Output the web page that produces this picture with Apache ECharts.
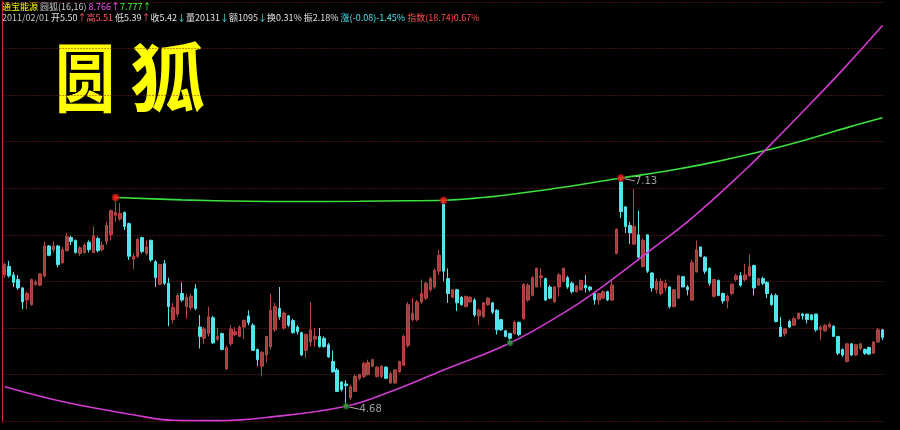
<!DOCTYPE html>
<html>
<head>
<meta charset="utf-8">
<script src="https://cdn.jsdelivr.net/npm/echarts@6/dist/echarts.min.js"></script>
<style>
  html, body { margin: 0; padding: 0; background: #000; }
  #chart { width: 900px; height: 430px; }
</style>
</head>
<body>
<div id="chart"></div>
<script>
// Daily bars, oldest first (last bar: 2011/02/01)
const open = [
  6.09, 6.18, 6.09, 6.04, 5.95, 5.82, 5.77, 5.99, 5.98, 6.08,
  6.40, 6.36, 6.40, 6.22, 6.35, 6.49, 6.46, 6.32, 6.33, 6.44,
  6.33, 6.48, 6.36, 6.45, 6.52, 6.73, 6.69, 6.76, 6.64, 6.26,
  6.29, 6.49, 6.32, 6.46, 6.23, 5.99, 6.21, 6.00, 5.61, 5.67,
  5.89, 5.75, 5.74, 5.94, 5.53, 5.41, 5.46, 5.63, 5.40, 5.46,
  5.08, 5.35, 5.45, 5.43, 5.53, 5.65, 5.55, 5.29, 5.11, 5.23,
  5.32, 5.50, 5.73, 5.52, 5.65, 5.60, 5.53, 5.47, 5.28, 5.37,
  5.40, 5.43, 5.41, 5.34, 5.16, 5.07, 4.94, 4.92, 4.77, 4.84,
  4.98, 5.00, 5.02, 5.11, 5.00, 5.00, 5.10, 4.93, 4.93, 5.05,
  5.12, 5.33, 5.61, 5.61, 5.80, 5.84, 5.93, 5.96, 6.13, 6.86,
  6.05, 5.85, 5.93, 5.85, 5.75, 5.80, 5.82, 5.65, 5.64, 5.77,
  5.79, 5.71, 5.61, 5.49, 5.46, 5.46, 5.58, 5.62, 5.82, 5.87,
  5.96, 6.06, 6.05, 5.96, 5.80, 5.96, 6.02, 6.06, 6.00, 5.91,
  5.93, 5.98, 5.96, 5.89, 5.82, 5.84, 5.91, 5.82, 6.32, 7.09,
  6.82, 6.62, 6.42, 6.52, 6.18, 6.52, 6.11, 5.93, 5.89, 5.95,
  5.96, 5.75, 5.84, 6.07, 5.96, 5.82, 6.12, 6.39, 6.28, 6.16,
  5.86, 6.03, 5.89, 5.81, 5.89, 6.04, 6.08, 6.04, 6.08, 6.19,
  5.98, 6.05, 6.01, 5.87, 5.87, 5.53, 5.46, 5.59, 5.55, 5.62,
  5.67, 5.67, 5.66, 5.67, 5.50, 5.49, 5.53, 5.54, 5.43, 5.29,
  5.16, 5.35, 5.23, 5.30, 5.29, 5.31, 5.25, 5.37, 5.50
];
const close = [
  6.20, 6.08, 6.01, 5.95, 5.80, 5.89, 6.04, 6.01, 6.10, 6.40,
  6.30, 6.40, 6.20, 6.36, 6.50, 6.45, 6.33, 6.38, 6.41, 6.36,
  6.51, 6.35, 6.41, 6.62, 6.78, 6.76, 6.75, 6.61, 6.29, 6.29,
  6.47, 6.34, 6.39, 6.25, 6.06, 6.20, 6.00, 5.75, 5.74, 5.87,
  5.82, 5.85, 5.86, 5.73, 5.43, 5.51, 5.64, 5.36, 5.43, 5.29,
  5.31, 5.51, 5.48, 5.53, 5.60, 5.58, 5.28, 5.18, 5.26, 5.43,
  5.71, 5.75, 5.64, 5.68, 5.55, 5.47, 5.48, 5.23, 5.45, 5.50,
  5.43, 5.32, 5.32, 5.21, 5.05, 4.84, 4.86, 4.90, 4.89, 5.00,
  5.02, 5.14, 5.15, 5.18, 5.10, 5.11, 4.98, 5.03, 5.07, 5.16,
  5.43, 5.77, 5.68, 5.80, 5.89, 6.00, 6.05, 6.14, 6.30, 6.13,
  5.89, 5.93, 5.79, 5.77, 5.86, 5.85, 5.66, 5.71, 5.79, 5.84,
  5.69, 5.50, 5.50, 5.43, 5.41, 5.58, 5.45, 5.99, 5.98, 6.06,
  6.16, 6.08, 5.82, 5.84, 5.96, 6.09, 6.16, 5.96, 5.91, 5.97,
  6.03, 5.95, 5.93, 5.82, 5.89, 5.91, 5.82, 5.98, 6.58, 6.77,
  6.61, 6.54, 6.61, 6.28, 6.46, 6.13, 5.95, 6.02, 6.02, 6.00,
  5.75, 5.93, 6.08, 5.96, 5.93, 6.22, 6.36, 6.29, 6.13, 6.00,
  6.04, 5.87, 5.81, 5.86, 5.99, 6.08, 5.98, 6.09, 6.18, 5.95,
  6.05, 6.00, 5.89, 5.77, 5.59, 5.43, 5.51, 5.53, 5.62, 5.68,
  5.65, 5.61, 5.61, 5.50, 5.53, 5.55, 5.56, 5.43, 5.25, 5.23,
  5.35, 5.23, 5.34, 5.35, 5.25, 5.24, 5.37, 5.50, 5.42
];
const low = [
  6.06, 6.06, 5.96, 5.93, 5.72, 5.72, 5.76, 5.97, 5.97, 6.06,
  6.29, 6.33, 6.17, 6.21, 6.34, 6.41, 6.32, 6.29, 6.32, 6.33,
  6.32, 6.33, 6.34, 6.41, 6.46, 6.66, 6.67, 6.57, 6.25, 6.15,
  6.27, 6.32, 6.30, 6.23, 5.96, 5.98, 5.98, 5.54, 5.57, 5.64,
  5.80, 5.62, 5.71, 5.71, 5.30, 5.35, 5.43, 5.35, 5.38, 5.28,
  5.07, 5.33, 5.43, 5.43, 5.40, 5.55, 5.28, 5.11, 5.00, 5.15,
  5.29, 5.48, 5.61, 5.50, 5.53, 5.46, 5.45, 5.22, 5.20, 5.32,
  5.32, 5.31, 5.31, 5.20, 5.04, 4.84, 4.84, 4.68, 4.75, 4.83,
  4.96, 4.98, 5.01, 5.10, 4.99, 4.98, 4.97, 4.92, 4.92, 5.04,
  5.11, 5.31, 5.59, 5.59, 5.78, 5.82, 5.91, 5.94, 6.09, 6.02,
  5.79, 5.84, 5.70, 5.76, 5.74, 5.79, 5.64, 5.55, 5.63, 5.76,
  5.67, 5.45, 5.49, 5.42, 5.36, 5.45, 5.43, 5.61, 5.80, 5.86,
  5.96, 5.96, 5.81, 5.83, 5.79, 5.86, 6.01, 5.94, 5.89, 5.90,
  5.92, 5.90, 5.91, 5.77, 5.77, 5.83, 5.81, 5.81, 6.31, 6.70,
  6.54, 6.42, 6.41, 6.27, 6.17, 6.11, 5.91, 5.89, 5.87, 5.91,
  5.73, 5.74, 5.83, 5.96, 5.87, 5.81, 6.12, 6.28, 6.10, 5.97,
  5.85, 5.86, 5.78, 5.73, 5.87, 6.02, 5.96, 6.02, 6.07, 5.87,
  5.97, 5.98, 5.84, 5.76, 5.58, 5.43, 5.43, 5.52, 5.54, 5.61,
  5.61, 5.57, 5.60, 5.48, 5.39, 5.48, 5.52, 5.43, 5.23, 5.21,
  5.15, 5.22, 5.22, 5.28, 5.23, 5.23, 5.24, 5.36, 5.39
];
const high = [
  6.22, 6.24, 6.12, 6.09, 5.96, 5.91, 6.05, 6.04, 6.11, 6.45,
  6.41, 6.45, 6.41, 6.39, 6.54, 6.51, 6.47, 6.40, 6.43, 6.46,
  6.61, 6.50, 6.45, 6.66, 6.79, 6.92, 6.86, 6.77, 6.65, 6.32,
  6.49, 6.50, 6.46, 6.47, 6.25, 6.21, 6.25, 6.06, 5.79, 5.89,
  6.01, 5.89, 5.89, 5.99, 5.66, 5.53, 5.75, 5.65, 5.52, 5.47,
  5.33, 5.55, 5.53, 5.55, 5.61, 5.71, 5.57, 5.30, 5.27, 5.43,
  5.89, 5.79, 5.96, 5.70, 5.66, 5.62, 5.55, 5.48, 5.46, 5.80,
  5.52, 5.52, 5.43, 5.36, 5.28, 5.09, 4.95, 4.96, 4.91, 5.02,
  5.03, 5.16, 5.18, 5.19, 5.11, 5.12, 5.11, 5.05, 5.08, 5.17,
  5.45, 5.80, 5.84, 5.82, 6.04, 6.02, 6.07, 6.16, 6.36, 6.89,
  6.16, 5.94, 5.94, 5.86, 5.86, 5.86, 5.84, 5.73, 5.80, 5.85,
  5.80, 5.72, 5.61, 5.50, 5.47, 5.60, 5.59, 6.00, 6.00, 6.08,
  6.17, 6.16, 6.06, 5.98, 5.97, 6.11, 6.17, 6.08, 6.02, 5.98,
  6.04, 6.09, 5.97, 5.91, 5.89, 5.92, 5.92, 6.04, 6.59, 7.13,
  6.82, 6.66, 7.01, 6.78, 6.48, 6.52, 6.12, 6.05, 6.05, 6.04,
  5.97, 5.94, 6.09, 6.08, 5.98, 6.25, 6.46, 6.39, 6.29, 6.17,
  6.04, 6.04, 5.90, 5.88, 6.00, 6.10, 6.12, 6.21, 6.31, 6.20,
  6.06, 6.07, 6.02, 5.89, 5.89, 5.64, 5.52, 5.61, 5.64, 5.68,
  5.68, 5.67, 5.67, 5.67, 5.55, 5.56, 5.58, 5.55, 5.43, 5.30,
  5.36, 5.36, 5.35, 5.36, 5.30, 5.32, 5.38, 5.52, 5.51
];
const days = open.map((_, i) => String(i + 1));

// 圆狐(16,16): upper arc over the swing highs, lower arc under the swing lows
const upperArc = [
  [25, 6.92], [40, 6.895], [55, 6.88], [66, 6.877], [80, 6.88], [90, 6.885],
  [99, 6.89], [110, 6.93], [120, 6.99], [130, 7.06], [139, 7.13], [150, 7.21],
  [160, 7.30], [172, 7.43], [180, 7.53], [190, 7.67], [198, 7.777]
];
const lowerArc = [
  [0, 4.89], [14, 4.72], [29, 4.59], [38, 4.53], [48, 4.526], [59, 4.56],
  [77, 4.68], [88, 4.855], [99, 5.07], [114, 5.36], [126, 5.68], [133, 5.90],
  [145, 6.33], [155, 6.70], [167, 7.215], [172, 7.45], [180, 7.84],
  [189, 8.29], [198, 8.766]
];
// bars whose high / low the arcs are anchored to
const highPivots = [25, 99, 139];
const lowPivots = [77, 114];
const labelledHigh = 139;
const labelledLow = 77;

// header lines: [text, colour] pieces, drawn left to right
const headerRow1 = [
  ['通宝能源', '#ffff00'], [' 圆狐(16,16) ', '#c8c8c8'],
  ['8.766', '#ff50ff'], ['↑', '#ff50ff'], ['7.777', '#40ff40'], ['↑', '#40ff40']
];
const headerRow2 = [
  ['2011/02/01 ', '#c8c8c8'], ['开5.50', '#e0e0e0'], ['↑', '#ff5a6a'],
  ['高5.51 ', '#ff5a6a'], ['低5.39', '#e0e0e0'], ['↑', '#ff5a6a'],
  ['收5.42', '#e0e0e0'], ['↓', '#50e8f0'], ['量20131', '#e0e0e0'], ['↓', '#50e8f0'],
  ['额1095', '#e0e0e0'], ['↓', '#50e8f0'], ['换0.31% ', '#e0e0e0'],
  ['振2.18% ', '#e0e0e0'], ['涨(-0.08)-1.45% ', '#50e8f0'], ['指数(18.74)0.67%', '#ff4a4a']
];

const ohlc = open.map((o, i) => [o, close[i], low[i], high[i]]);
const pivotLabel = {
  show: true, position: 'right', distance: 2,
  color: '#c8c8c8', fontSize: 10, fontFamily: 'DejaVu Sans',
  formatter: p => p.value[1].toFixed(2)
};
const highDots = highPivots.map(i => i === labelledHigh
  ? { value: [i, high[i]], label: pivotLabel }
  : [i, high[i]]);
const lowDots = lowPivots.map(i => i === labelledLow
  ? { value: [i, low[i]], label: pivotLabel }
  : [i, low[i]]);

function richRow(pieces, y) {
  const rich = {};
  const parts = pieces.map((p, k) => {
    rich['s' + k] = { fill: p[1], fontSize: 9, fontFamily: 'Noto Sans CJK SC' };
    return '{s' + k + '|' + p[0] + '}';
  });
  return {
    type: 'text', x: 2, y: y,
    style: { text: parts.join(''), rich: rich, fill: '#e0e0e0', verticalAlign: 'middle' }
  };
}

const titleFont = 'bold 75px "Noto Sans CJK SC"';
const graphics = [
  richRow(headerRow1, 7),
  richRow(headerRow2, 18),
  { type: 'text', x: 55, y: 77, scaleX: 0.8,
    style: { text: '圆', fill: '#ffff00', font: titleFont, verticalAlign: 'middle' } },
  { type: 'text', x: 130, y: 77,
    style: { text: '狐', fill: '#ffff00', font: titleFont, verticalAlign: 'middle' } }
];

const chart = echarts.init(document.getElementById('chart'));
chart.setOption({
  backgroundColor: '#000',
  animation: false,
  grid: { left: 2.5, right: 15.3, top: 1.8, bottom: 8.8 },
  xAxis: {
    type: 'category', data: days, boundaryGap: true,
    axisLine: { show: false }, axisTick: { show: false }, axisLabel: { show: false },
    splitLine: { show: false }
  },
  yAxis: {
    type: 'value', min: 4.52, max: 9.02, interval: 0.5,
    axisLine: { show: true, lineStyle: { color: '#c8303c', width: 1 } },
    axisTick: { show: false }, axisLabel: { show: false },
    splitLine: { show: true, lineStyle: { color: '#8a2424', type: [1, 2], width: 1 } }
  },
  graphic: graphics,
  series: [
    {
      type: 'candlestick', data: ohlc, barWidth: 3,
      itemStyle: {
        color: '#a43e3e', color0: '#54e4ec',
        borderColor: '#b84646', borderColor0: '#54e4ec', borderWidth: 1
      },
      z: 2
    },
    {
      type: 'line', data: upperArc, smooth: 0.4, showSymbol: false, clip: false,
      lineStyle: { color: '#3ce03c', width: 1.6 }, z: 3
    },
    {
      type: 'line', data: lowerArc, smooth: 0.4, showSymbol: false, clip: false,
      lineStyle: { color: '#d23cd2', width: 1.6 }, z: 3
    },
    {
      type: 'scatter', data: highDots, symbolSize: 7, clip: false,
      itemStyle: { color: '#ff2020', borderColor: '#801010', borderWidth: 1 },
      labelLayout: { dx: 8, dy: 3 },
      labelLine: { show: true, lineStyle: { color: '#b0b0b0', width: 1 } },
      z: 5
    },
    {
      type: 'scatter', data: lowDots, symbolSize: 6, clip: false,
      itemStyle: { color: '#2a9a3a', borderColor: '#104a18', borderWidth: 1 },
      labelLayout: { dx: 8, dy: 3 },
      labelLine: { show: true, lineStyle: { color: '#b0b0b0', width: 1 } },
      z: 5
    }
  ]
});
</script>
</body>
</html>
